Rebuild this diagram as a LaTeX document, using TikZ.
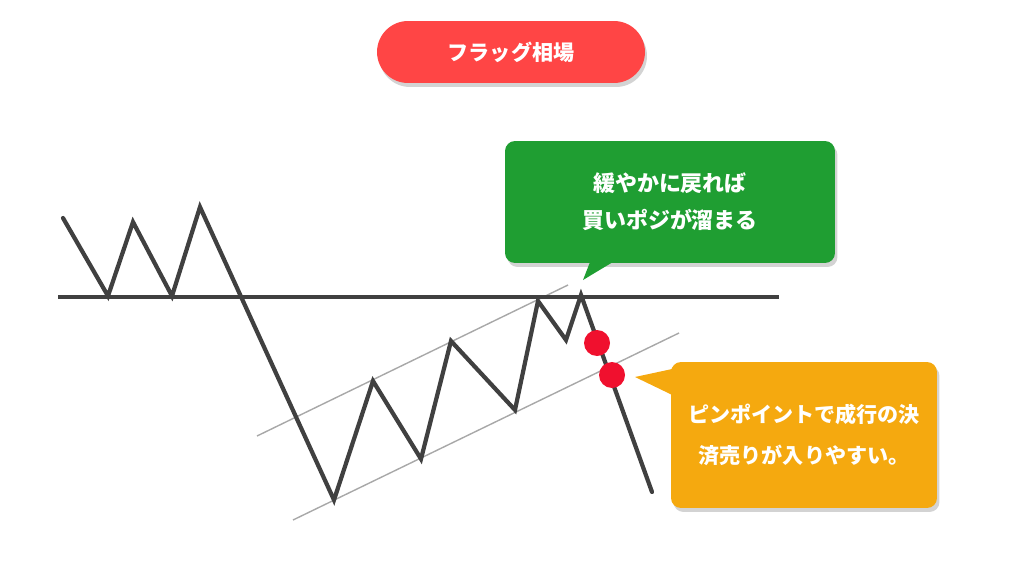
\documentclass[tikz,border=0pt]{standalone}
\usepackage{fontspec}
\setmainfont{Noto Sans CJK JP}
\usetikzlibrary{calc, shadows}
\definecolor{pillred}{HTML}{FF4545}
\definecolor{boxgreen}{HTML}{1F9E32}
\definecolor{boxorange}{HTML}{F5A90F}
\definecolor{pricegray}{HTML}{404040}
\definecolor{chanline}{HTML}{A8A8A8}
\definecolor{hitred}{HTML}{F0102E}
\tikzset{
  pill/.style={rectangle,rounded corners=0.62cm,fill=pillred,text=white,
    minimum width=5.36cm,minimum height=1.24cm,font=\bfseries\fontsize{12}{14}\selectfont,
    drop shadow={opacity=0.35,shadow xshift=0.04cm,shadow yshift=-0.08cm}},
  callout/.style={rectangle,rounded corners=0.2cm,fill=#1,text=white,align=center,
    font=\bfseries\fontsize{12.5}{21}\selectfont,
    drop shadow={opacity=0.35,shadow xshift=0.05cm,shadow yshift=-0.08cm}},
  price/.style={line width=2.4pt,pricegray,line cap=round},
  chan/.style={line width=0.8pt,chanline},
  hit/.style={circle,fill=hitred,inner sep=0pt,minimum size=0.52cm},
}
\begin{document}
\begin{tikzpicture}[x=0.02cm,y=-0.02cm]
  \useasboundingbox (0,0) rectangle (1023,571);

  \node[pill] (title) at (511,52) {フラッグ相場};

  % channel of the flag
  \coordinate (up1) at (257,436);
  \coordinate (up2) at (568,285);
  \coordinate (lo1) at (293,520);
  \coordinate (lo2) at (679,333);
  \draw[chan] (up1) -- (up2);
  \draw[chan] (lo1) -- (lo2);

  % support line
  \coordinate (sl) at (58,297);
  \coordinate (sr) at (779,297);
  \draw[line width=2.6pt,pricegray] (sl) -- (sr);

  % price
  \coordinate (p1) at (63,218);
  \coordinate (p2) at (108,296);
  \coordinate (p3) at (133,222);
  \coordinate (p4) at (172,296);
  \coordinate (p5) at (200,207);
  \coordinate (p6) at (334,500);
  \coordinate (p7) at (373,381);
  \coordinate (p8) at (421,459);
  \coordinate (p9) at (451,341);
  \coordinate (p10) at (515,410);
  \coordinate (p11) at (538,301);
  \coordinate (p12) at (566,340);
  \coordinate (p13) at (581,295);
  \coordinate (p14) at (652,492);
  \draw[price] (p1) -- (p2) -- (p3) -- (p4) -- (p5) -- (p6) -- (p7) -- (p8)
    -- (p9) -- (p10) -- (p11) -- (p12) -- (p13) -- (p14);

  \node[hit] (hit1) at (597,343) {};
  \node[hit] (hit2) at (612,375) {};

  % callouts
  \node[callout=boxgreen,minimum width=6.6cm,minimum height=2.44cm] (back) at (670,202)
    {緩やかに戻れば\\買いポジが溜まる};
  \fill[boxgreen] ($(back.south west)+(86,-3)$) -- (583,280) -- ($(back.south west)+(111,-3)$) -- cycle;

  \node[callout=boxorange,minimum width=5.32cm,minimum height=2.92cm,
    font=\bfseries\fontsize{12}{23}\selectfont] (exit) at (804,435)
    {ピンポイントで成行の決\\済売りが入りやすい。};
  \fill[boxorange] ($(exit.north west)+(3,7)$) -- (635,377) -- ($(exit.north west)+(3,34)$) -- cycle;
\end{tikzpicture}
\end{document}
